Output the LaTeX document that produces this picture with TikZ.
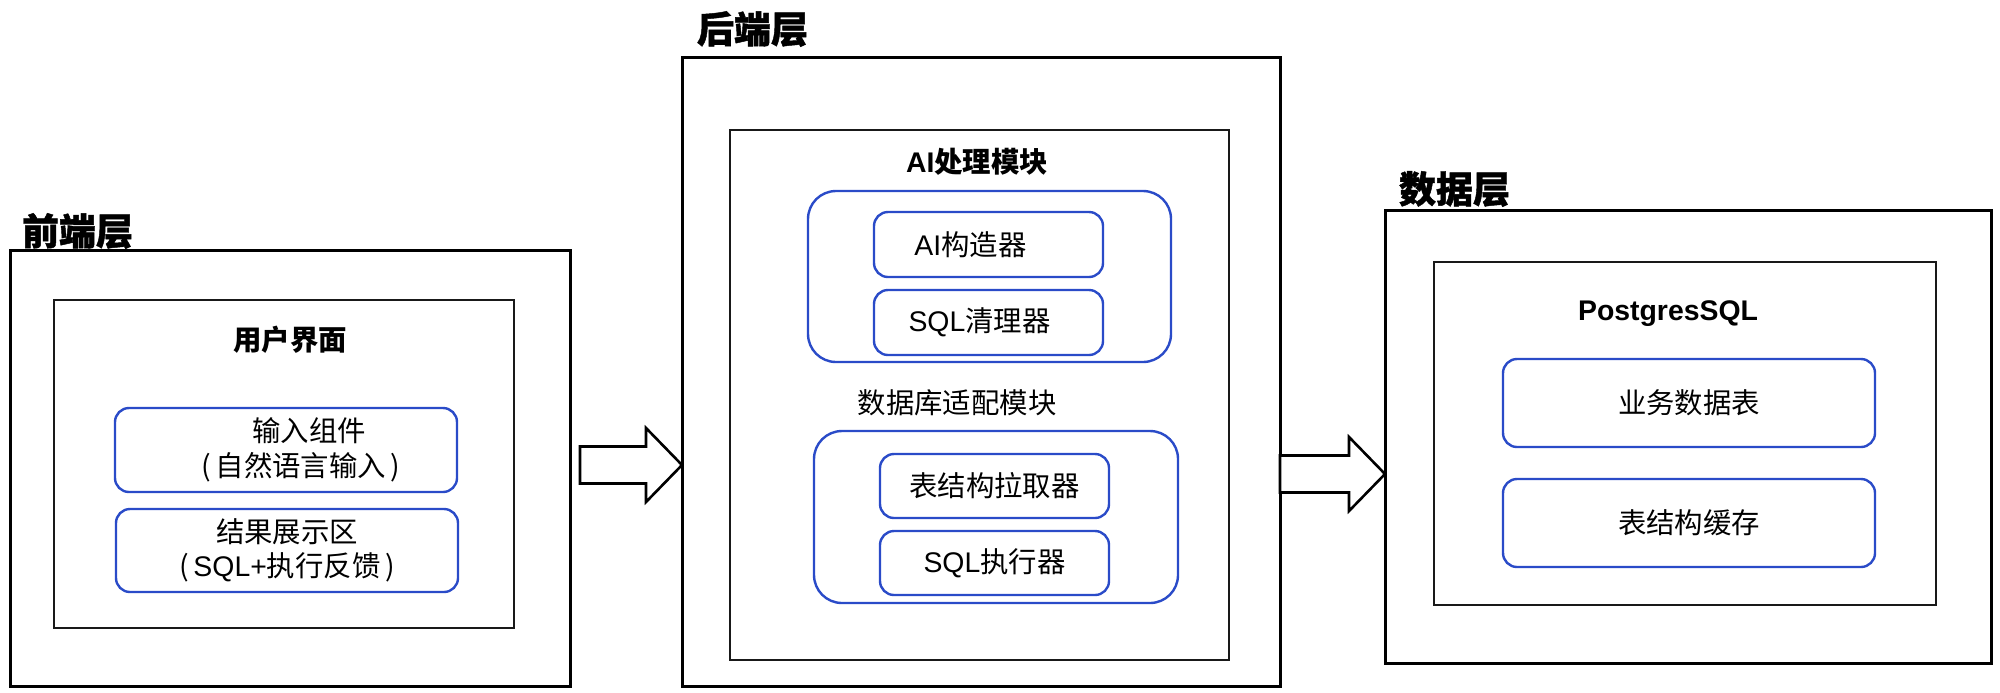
\documentclass[tikz,border=0pt]{standalone}
\usepackage{fontspec}
\setmainfont{Noto Sans CJK SC}
\newfontfamily\enfont{Liberation Sans}
\newfontfamily\heavyfont{Noto Sans CJK SC}[BoldFeatures={FakeBold=1.2}]
\usetikzlibrary{calc}
\definecolor{cModule}{HTML}{2A4BC8}
\newlength\px
\setlength\px{0.5pt}
\newcommand{\en}[1]{{\enfont #1}}
\tikzset{
  layer/.style  ={draw=black, line width=3\px},
  panel/.style  ={draw=black!90, line width=2.6\px},
  group/.style  ={draw=cModule, line width=2.4\px, rounded corners=28\px},
  part/.style   ={draw=cModule, line width=2.4\px, rounded corners=14\px,
                  align=center, font=\fontsize{14.2pt}{17.3pt}\selectfont},
  layerttl/.style={font=\heavyfont\bfseries\fontsize{18.5pt}{20pt}\selectfont, anchor=west},
  panelttl/.style={font=\bfseries\fontsize{14.2pt}{17pt}\selectfont},
  modttl/.style ={font=\fontsize{14.2pt}{17pt}\selectfont},
  blockarrow/.style={draw=black, line width=2.6\px, fill=white, line join=miter},
}
% hollow block arrow from #1 (tail) to #2 (tip)
\newcommand{\layerarrow}[2]{%
  \draw[blockarrow] ($(#1)+(0,-18.5)$) -- ($(#2)+(-36,-18.5)$) -- ($(#2)+(-36,-37)$)
    -- (#2) -- ($(#2)+(-36,37)$) -- ($(#2)+(-36,18.5)$) -- ($(#1)+(0,18.5)$) -- cycle;}

\begin{document}
\begin{tikzpicture}[x=1\px, y=-1\px, inner sep=0pt, outer sep=0pt]
  \useasboundingbox (0,0) rectangle (2000,692);

  % ===== front-end layer =====
  \node[layer, minimum width=560\px, minimum height=436\px] (fouter) at (290,468) {};
  \node[layerttl] (fttl) at (22,231) {前端层};
  \node[panel, minimum width=460\px, minimum height=328\px] (finner) at (284,464) {};
  \node[panelttl] (ui) at (290,340) {用户界面};
  \node[part, minimum width=342\px, minimum height=84\px] (finput) at (286,450)
    {\hspace*{46\px}输入组件\\\hspace*{30\px}(\,自然语言输入\,)};
  \node[part, minimum width=342\px, minimum height=83\px] (fresult) at (287,550.5)
    {结果展示区\\(\,\en{SQL+}执行反馈\,)};

  % ===== back-end layer =====
  \node[layer, minimum width=598\px, minimum height=629\px] (bouter) at (981,371.5) {};
  \node[layerttl] (bttl) at (697,29) {后端层};
  \node[panel, minimum width=499\px, minimum height=530\px] (binner) at (979.5,395) {};

  \node[panelttl] (aittl) at (977,162) {\en{AI}处理模块};
  \node[group, minimum width=363\px, minimum height=171\px] (aigroup) at (989.5,276.5) {};
  \node[part, minimum width=229\px, minimum height=65\px] (aibuild) at (988.5,244.5)
    {\hspace*{-36\px}\en{AI}构造器};
  \node[part, minimum width=229\px, minimum height=65\px] (aiclean) at (988.5,322.5)
    {\hspace*{-18\px}\en{SQL}清理器};

  \node[modttl] (dbttl) at (957,403) {数据库适配模块};
  \node[group, minimum width=364\px, minimum height=172\px] (dbgroup) at (996,517) {};
  \node[part, minimum width=229\px, minimum height=64\px] (dbfetch) at (994.5,486)
    {表结构拉取器};
  \node[part, minimum width=229\px, minimum height=64\px] (dbexec) at (994.5,563)
    {\en{SQL}执行器};

  % ===== data layer =====
  \node[layer, minimum width=606\px, minimum height=453\px] (douter) at (1688,436.5) {};
  \node[layerttl] (dttl) at (1399,189) {数据层};
  \node[panel, minimum width=502\px, minimum height=343\px] (dinner) at (1685,433.5) {};
  \node[panelttl] (pg) at (1668,314) {\en{PostgresSQL}};
  \node[part, minimum width=372\px, minimum height=88\px] (dtable) at (1689,403)
    {业务数据表};
  \node[part, minimum width=372\px, minimum height=88\px] (dcache) at (1689,523)
    {表结构缓存};

  % ===== layer arrows =====
  \coordinate (a1s) at ($(fouter.east)+(10,-3)$);
  \coordinate (a1e) at (bouter.west |- a1s);
  \layerarrow{a1s}{a1e}
  \coordinate (a2s) at (bouter.east |- 0,474);
  \coordinate (a2e) at (douter.west |- a2s);
  \layerarrow{a2s}{a2e}

\end{tikzpicture}
\end{document}
